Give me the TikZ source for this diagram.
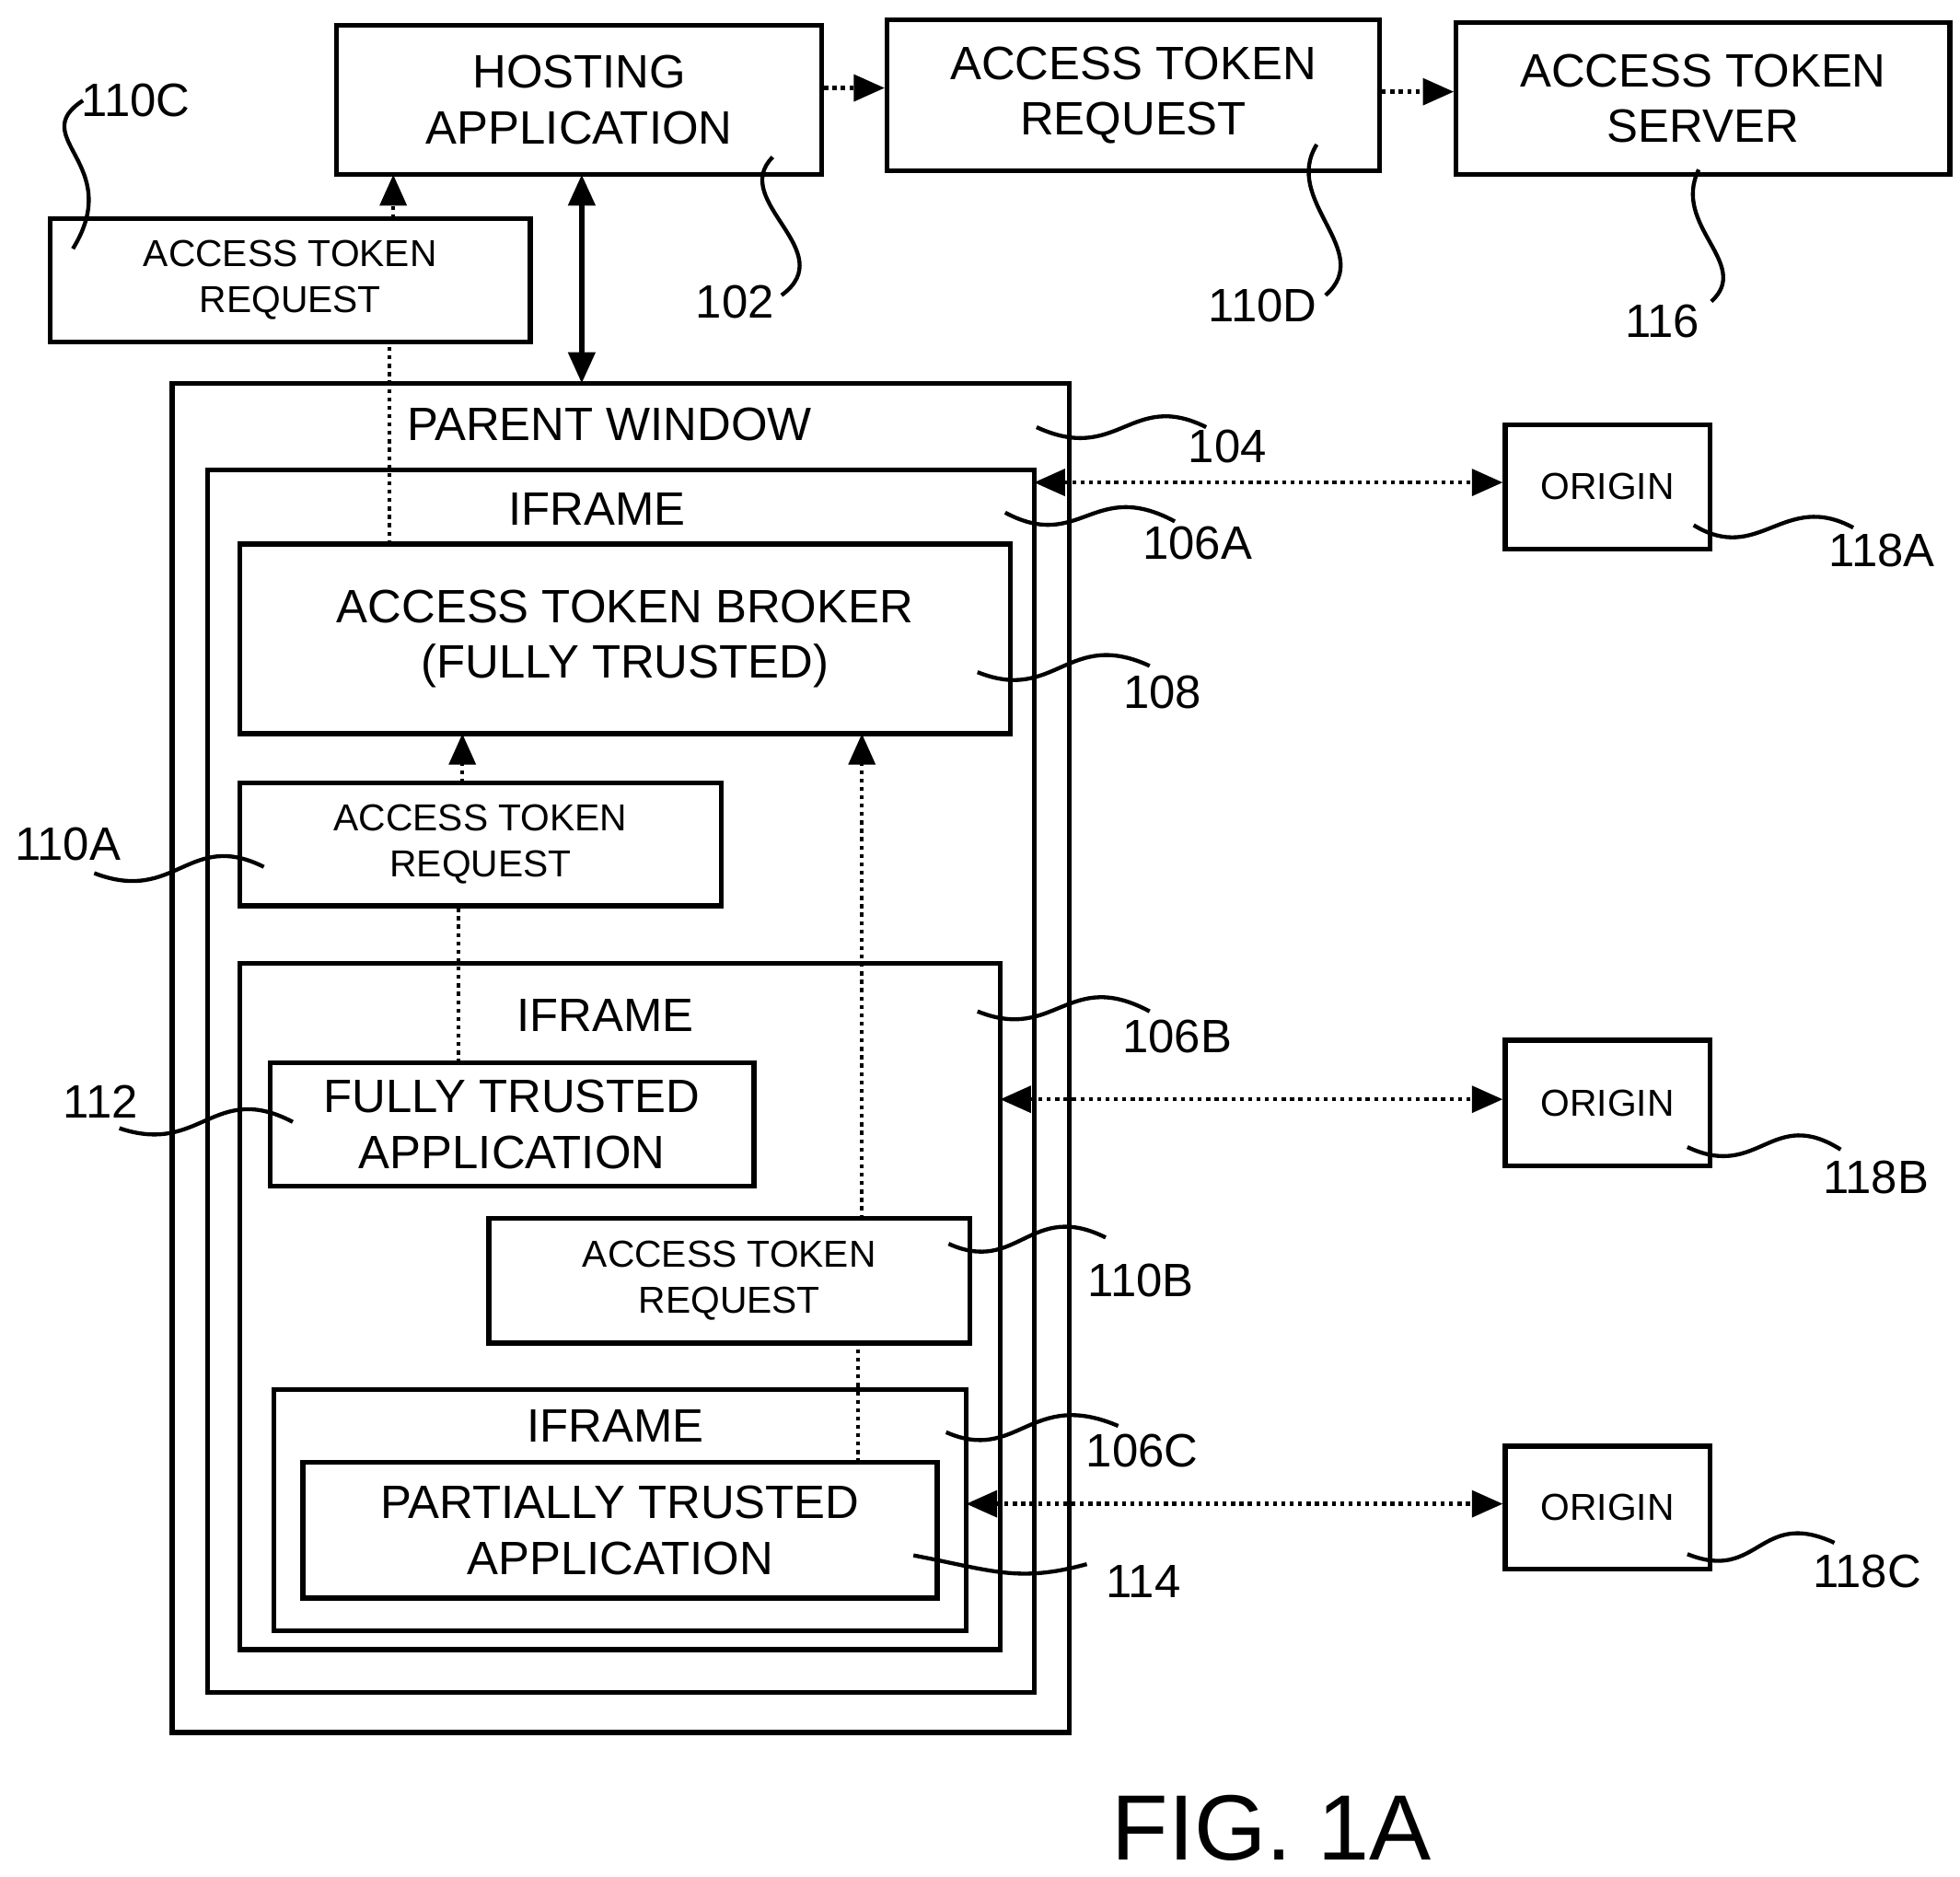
\documentclass[tikz,border=0pt]{standalone}
\usepackage{fontspec}
\setmainfont{Liberation Sans}
\usetikzlibrary{arrows.meta}
\tikzset{
  box/.style={draw, line width=1.1pt, inner sep=0pt, align=center, font=\fontsize{10.6}{12.6}\selectfont},
  sbox/.style={box, font=\fontsize{8.5}{10.4}\selectfont},
  lbl/.style={font=\fontsize{10.6}{13}\selectfont, inner sep=1pt},
  dot/.style={densely dotted, line width=0.9pt},
  lead/.style={line width=0.9pt},
  tip/.style={-{Triangle[length=7pt,width=6pt]}},
  tips/.style={{Triangle[length=7pt,width=6pt]}-{Triangle[length=7pt,width=6pt]}}
}
\begin{document}
\begin{tikzpicture}
        \useasboundingbox (0,0) rectangle (15.6,-14.94);

        % top row
        \node[box, minimum width=3.86cm, minimum height=1.19cm] (host) at (4.61,-0.795) {HOSTING\\APPLICATION};
        \node[box, minimum width=3.92cm, minimum height=1.20cm] (req110D) at (9.02,-0.76) {ACCESS TOKEN\\REQUEST};
        \node[box, minimum width=3.93cm, minimum height=1.21cm] (server) at (13.555,-0.785) {ACCESS TOKEN\\SERVER};
        \node[sbox, minimum width=3.82cm, minimum height=0.98cm] (req110C) at (2.31,-2.23) {ACCESS TOKEN\\REQUEST};

        % nested windows
        \node[box, minimum width=7.14cm, minimum height=10.74cm] (parent) at (4.94,-8.42) {};
        \node[lbl] at (4.85,-3.38) {PARENT WINDOW};
        \node[box, minimum width=6.58cm, minimum height=9.73cm] (frameA) at (4.94,-8.605) {};
        \node[lbl] at (4.75,-4.05) {IFRAME};
        \node[box, minimum width=6.13cm, minimum height=1.51cm] (broker) at (4.975,-5.085) {ACCESS TOKEN BROKER\\(FULLY TRUSTED)};
        \node[sbox, minimum width=3.83cm, minimum height=0.98cm] (req110A) at (3.825,-6.72) {ACCESS TOKEN\\REQUEST};
        \node[box, minimum width=6.05cm, minimum height=5.46cm] (frameB) at (4.935,-10.40) {};
        \node[lbl] at (4.82,-8.08) {IFRAME};
        \node[box, minimum width=3.85cm, minimum height=0.98cm] (fully) at (4.075,-8.95) {FULLY TRUSTED\\APPLICATION};
        \node[sbox, minimum width=3.83cm, minimum height=0.99cm] (req110B) at (5.805,-10.195) {ACCESS TOKEN\\REQUEST};
        \node[box, minimum width=5.51cm, minimum height=1.92cm] (frameC) at (4.935,-12.02) {};
        \node[lbl] at (4.90,-11.35) {IFRAME};
        \node[box, minimum width=5.05cm, minimum height=1.08cm] (partial) at (4.935,-12.18) {PARTIALLY TRUSTED\\APPLICATION};

        % origins
        \node[sbox, minimum width=1.63cm, minimum height=0.99cm] (originA) at (12.795,-3.875) {ORIGIN};
        \node[sbox, minimum width=1.63cm, minimum height=1.00cm] (originB) at (12.795,-8.78) {ORIGIN};
        \node[sbox, minimum width=1.63cm, minimum height=0.98cm] (originC) at (12.795,-12.00) {ORIGIN};

        % connectors
        \draw[tips, line width=1.1pt] (4.63,-1.39) -- (4.63,-3.05);
        \draw[dot, tip] (host.east |- 0,-0.70) -- (req110D.west |- 0,-0.70);
        \draw[dot, tip] (req110D.east |- 0,-0.73) -- (server.west |- 0,-0.73);
        \draw[dot, tip] (3.13,-1.74) -- (3.13,-1.39);
        \draw[dot] (3.10,-4.33) -- (3.10,-2.72);
        \draw[dot, tip] (3.68,-6.23) -- (3.68,-5.84);
        \draw[dot] (3.65,-8.46) -- (3.65,-7.21);
        \draw[dot, tip] (6.86,-9.70) -- (6.86,-5.84);
        \draw[dot] (6.83,-11.64) -- (6.83,-10.69);
        \draw[dot, tips] (8.23,-3.84) -- (originA.west |- 0,-3.84);
        \draw[dot, tips] (7.96,-8.75) -- (originB.west |- 0,-8.75);
        \draw[dot, tips] (7.69,-11.97) -- (originC.west |- 0,-11.97);

        % reference numerals
        \node[lbl] (n110C) at (1.08,-0.80) {110C};
        \node[lbl] (n102) at (5.85,-2.40) {102};
        \node[lbl] (n110D) at (10.05,-2.43) {110D};
        \node[lbl] (n116) at (13.23,-2.56) {116};
        \node[lbl] (n104) at (9.77,-3.55) {104};
        \node[lbl] (n106A) at (9.53,-4.32) {106A};
        \node[lbl] (n108) at (9.25,-5.51) {108};
        \node[lbl] (n118A) at (14.98,-4.38) {118A};
        \node[lbl] (n110A) at (0.54,-6.72) {110A};
        \node[lbl] (n106B) at (9.37,-8.25) {106B};
        \node[lbl] (n118B) at (14.93,-9.37) {118B};
        \node[lbl] (n112) at (0.80,-8.77) {112};
        \node[lbl] (n110B) at (9.08,-10.19) {110B};
        \node[lbl] (n106C) at (9.09,-11.55) {106C};
        \node[lbl] (n118C) at (14.86,-12.51) {118C};
        \node[lbl] (n114) at (9.10,-12.59) {114};

        % leaders
        \draw[lead] (0.58,-1.98) .. controls (1.0,-1.3) and (0.2,-1.1) .. (0.66,-0.80);
        \draw[lead] (6.15,-1.25) .. controls (5.8,-1.6) and (6.7,-2.0) .. (6.22,-2.35);
        \draw[lead] (10.48,-1.15) .. controls (10.2,-1.6) and (10.95,-2.0) .. (10.55,-2.35);
        \draw[lead] (13.52,-1.35) .. controls (13.3,-1.8) and (13.95,-2.1) .. (13.62,-2.40);
        \draw[lead] (8.25,-3.40) .. controls (8.9,-3.7) and (9.0,-3.1) .. (9.60,-3.40);
        \draw[lead] (8.00,-4.08) .. controls (8.6,-4.4) and (8.7,-3.8) .. (9.35,-4.15);
        \draw[lead] (7.78,-5.35) .. controls (8.4,-5.6) and (8.5,-5.0) .. (9.15,-5.30);
        \draw[lead] (13.48,-4.18) .. controls (14.0,-4.5) and (14.2,-3.9) .. (14.75,-4.20);
        \draw[lead] (0.75,-6.95) .. controls (1.4,-7.2) and (1.5,-6.6) .. (2.10,-6.90);
        \draw[lead] (7.78,-8.05) .. controls (8.4,-8.3) and (8.5,-7.7) .. (9.15,-8.05);
        \draw[lead] (13.43,-9.13) .. controls (14.0,-9.4) and (14.1,-8.8) .. (14.65,-9.15);
        \draw[lead] (0.95,-8.98) .. controls (1.6,-9.2) and (1.7,-8.6) .. (2.33,-8.93);
        \draw[lead] (7.55,-9.90) .. controls (8.1,-10.15) and (8.2,-9.55) .. (8.80,-9.85);
        \draw[lead] (7.53,-11.40) .. controls (8.1,-11.65) and (8.2,-11.05) .. (8.90,-11.35);
        \draw[lead] (13.43,-12.37) .. controls (14.0,-12.6) and (14.0,-12.0) .. (14.60,-12.28);
        \draw[lead] (7.27,-12.38) .. controls (7.9,-12.5) and (8.1,-12.6) .. (8.65,-12.45);

        \node[font=\fontsize{21}{25}\selectfont] (fig) at (10.12,-14.55) {FIG. 1A};
    \end{tikzpicture}
\end{document}
